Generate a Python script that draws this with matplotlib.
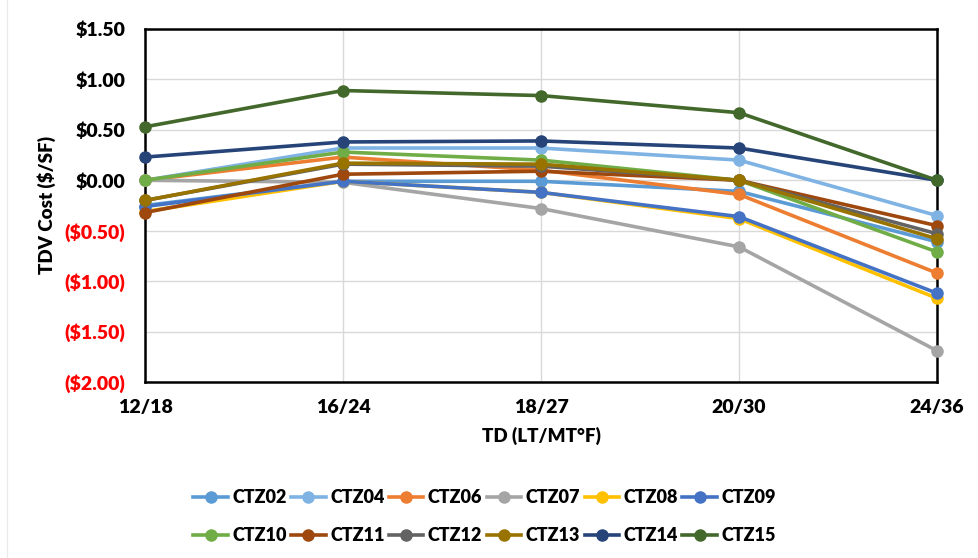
import matplotlib.pyplot as plt
from matplotlib.ticker import FuncFormatter
from matplotlib.lines import Line2D

# Data
categories = ['12/18', '16/24', '18/27', '20/30', '24/36']
zones = ['CTZ02', 'CTZ04', 'CTZ06', 'CTZ07', 'CTZ08', 'CTZ09',
         'CTZ10', 'CTZ11', 'CTZ12', 'CTZ13', 'CTZ14', 'CTZ15']
ctz02 = [-0.25, -0.01, -0.01, -0.11, -0.61]
ctz04 = [0.00, 0.32, 0.32, 0.20, -0.35]
ctz06 = [0.00, 0.23, 0.10, -0.14, -0.92]
ctz07 = [0.00, -0.02, -0.28, -0.66, -1.69]
ctz08 = [-0.31, -0.01, -0.12, -0.38, -1.17]
ctz09 = [-0.26, -0.01, -0.12, -0.36, -1.12]
ctz10 = [0.00, 0.28, 0.20, 0.00, -0.71]
ctz11 = [-0.32, 0.06, 0.09, 0.00, -0.45]
ctz12 = [-0.20, 0.16, 0.14, 0.00, -0.53]
ctz13 = [-0.20, 0.17, 0.16, 0.00, -0.58]
ctz14 = [0.23, 0.38, 0.39, 0.32, 0.00]
ctz15 = [0.53, 0.89, 0.84, 0.67, 0.00]
colors = ['#5B9BD5', '#7FB3E3', '#ED7D31', '#A5A5A5', '#FFC000', '#4472C4',
          '#70AD47', '#9E480E', '#636363', '#997300', '#264478', '#43682B']
series = [ctz02, ctz04, ctz06, ctz07, ctz08, ctz09,
          ctz10, ctz11, ctz12, ctz13, ctz14, ctz15]

plt.rcParams['font.family'] = ['Lato', 'DejaVu Sans']

fig = plt.figure(figsize=(9.79, 5.58), dpi=100)
ax = fig.add_axes([145 / 979, 1 - 382 / 558, (937 - 145) / 979, (382 - 29) / 558])

x = list(range(len(categories)))
for name, vals, c in zip(zones, series, colors):
    ax.plot(x, vals, color=c, linewidth=2.6, marker='o', markersize=8,
            label=name, clip_on=False, zorder=3)

ax.set_xlim(0, len(categories) - 1)
ax.set_ylim(-2.0, 1.5)
ax.set_yticks([1.5, 1.0, 0.5, 0.0, -0.5, -1.0, -1.5, -2.0])


def money(v, pos):
    if v < 0:
        return '(${:.2f})'.format(-v)
    return '${:.2f}'.format(v)


ax.yaxis.set_major_formatter(FuncFormatter(money))
ax.set_xticks(x)
ax.set_xticklabels(categories)
for lab, v in zip(ax.get_yticklabels(), ax.get_yticks()):
    lab.set_color('red' if v < 0 else 'black')
for lab in ax.get_xticklabels() + ax.get_yticklabels():
    lab.set_fontweight('heavy')
    lab.set_fontsize(14)
ax.tick_params(axis='y', length=0, pad=14)
ax.tick_params(axis='x', length=0, pad=12)

ax.grid(True, color='#D9D9D9', linewidth=1)
ax.set_axisbelow(True)
for s in ax.spines.values():
    s.set_color('black')
    s.set_linewidth(1.8)
    s.set_zorder(2)

ax.set_ylabel('TDV Cost ($/SF)', fontsize=13.5, fontweight='heavy', labelpad=6)
ax.set_xlabel('TD (LT/MT°F)', fontsize=13.5, fontweight='heavy', labelpad=8)

# legend fills columns first, so interleave the two rows
order = [i + r * 6 for i in range(6) for r in range(2)]
handles = [Line2D([0], [0], color=colors[i], linewidth=2.6, marker='o', markersize=8)
           for i in order]
fig.legend(handles, [zones[i] for i in order], loc='center',
           bbox_to_anchor=(0.495, 0.074), ncol=6, frameon=False,
           prop={'weight': 'heavy', 'size': 13},
           handlelength=1.9, handletextpad=0.25, columnspacing=0.25,
           labelspacing=1.15)

fig.add_artist(Line2D([7 / 979, 7 / 979], [0, 1], color='#EBEBEB', linewidth=1))

plt.savefig('out.png', dpi=100)
